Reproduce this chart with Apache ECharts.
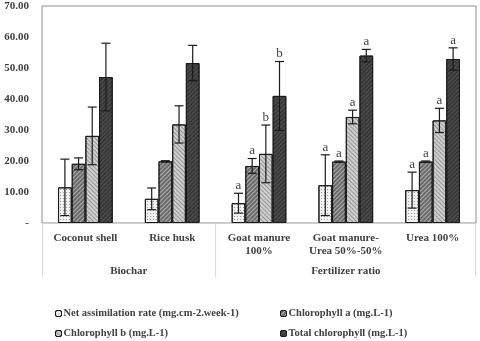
<!DOCTYPE html>
<html>
<head>
<meta charset="utf-8">
<script src="https://cdn.jsdelivr.net/npm/echarts@6/dist/echarts.min.js"></script>
<style>
  html, body { margin: 0; padding: 0; background: #fff; }
  #chart { width: 480px; height: 341px; }
</style>
</head>
<body>
<div id="chart"></div>
<script>
// categories of the x axis (two levels)
var categories = ['Coconut shell', 'Rice husk', 'Goat manure\n100%', 'Goat manure-\nUrea 50%-50%', 'Urea 100%'];
var groups = ['Biochar', 'Fertilizer ratio'];
var seriesNames = ['Net assimilation rate (mg.cm-2.week-1)', 'Chlorophyll a (mg.L-1)', 'Chlorophyll b (mg.L-1)', 'Total chlorophyll (mg.L-1)'];

// values
var netRate  = [11.5, 7.8, 6.4, 12.2, 10.6];
var chlA     = [19.1, 19.9, 18.4, 19.8, 19.8];
var chlB     = [28.1, 31.8, 22.3, 34.2, 33.1];
var totalChl = [47.1, 51.6, 41.0, 54.0, 52.9];

// error bars (+/-)
var netRateErr  = [9.1, 3.5, 3.2, 9.8, 5.8];
var chlAErr     = [1.9, 0.2, 2.4, 0.2, 0.2];
var chlBErr     = [9.3, 6.0, 9.3, 2.2, 3.9];
var totalChlErr = [10.9, 5.7, 11.1, 2.0, 3.6];

// significance letters
var netRateLetter  = ['', '', 'a', 'a', 'a'];
var chlALetter     = ['', '', 'a', 'a', 'a'];
var chlBLetter     = ['', '', 'b', 'a', 'a'];
var totalChlLetter = ['', '', 'b', 'a', 'a'];

var yTicks = [0, 10, 20, 30, 40, 50, 60, 70];

var font = '"Liberation Serif", "Times New Roman", serif';
var txtColor = '#404040';
var gapRatio = 0.37;

var values = [netRate, chlA, chlB, totalChl];
var errs = [netRateErr, chlAErr, chlBErr, totalChlErr];
var letters = [netRateLetter, chlALetter, chlBLetter, totalChlLetter];

// 数据拍平给 custom series 用
var errData = [];
var letterFlat = [];
values.forEach(function(arr, si) {
	arr.forEach(function(v, ci) {
		errData.push([ci, si, v, errs[si][ci]]);
		letterFlat.push(letters[si][ci]);
	});
});

var fills = ['#f2f2f2', '#6a6a6a', '#cfcfcf', '#383838'];
var decals = [
	{ symbol: 'rect', symbolSize: 1, color: 'rgba(0,0,0,0.35)', dashArrayX: [1, 2], dashArrayY: [1, 2], rotation: 0 },
	{ symbol: 'rect', symbolSize: 1, color: 'rgba(255,255,255,0.45)', dashArrayX: [1, 0], dashArrayY: [1, 2], rotation: -Math.PI / 4 },
	{ symbol: 'rect', symbolSize: 1, color: 'rgba(0,0,0,0.28)', dashArrayX: [1, 0], dashArrayY: [1, 2], rotation: Math.PI / 4 },
	{ symbol: 'rect', symbolSize: 1, color: 'rgba(255,255,255,0.12)', dashArrayX: [1, 0], dashArrayY: [1, 2], rotation: -Math.PI / 4 }
];

var barSeries = values.map(function(arr, i) {
	return {
		name: seriesNames[i],
		type: 'bar',
		data: arr,
		barGap: '0%',
		barCategoryGap: (gapRatio * 100) + '%',
		itemStyle: { color: fills[i], borderColor: '#1a1a1a', borderWidth: 1, decal: decals[i] },
		emphasis: { disabled: true }
	};
});

barSeries.push({
	type: 'custom',
	data: errData,
	z: 10,
	renderItem: function(params, api) {
		var ci = api.value(0), si = api.value(1), v = api.value(2), e = api.value(3);
		var band = api.size([1, 0])[0];
		var bw = band * (1 - gapRatio) / 4;
		var cx = api.coord([ci, 0])[0] + (si - 1.5) * bw;
		var yTop = api.coord([ci, v + e])[1];
		var yBot = api.coord([ci, v - e])[1];
		var hw = 4.5;
		var st = { stroke: '#1a1a1a', lineWidth: 1.2 };
		var children = [
			{ type: 'line', shape: { x1: cx, y1: yTop, x2: cx, y2: yBot }, style: st },
			{ type: 'line', shape: { x1: cx - hw, y1: yTop, x2: cx + hw, y2: yTop }, style: st },
			{ type: 'line', shape: { x1: cx - hw, y1: yBot, x2: cx + hw, y2: yBot }, style: st }
		];
		var lt = letterFlat[params.dataIndex];
		if (lt) {
			children.push({
				type: 'text',
				style: { text: lt, x: cx, y: yTop - 1, align: 'center', verticalAlign: 'bottom',
					font: '13px ' + font, fill: txtColor }
			});
		}
		return { type: 'group', children: children };
	}
});

var myChart = echarts.init(document.getElementById('chart'));

var legendText = { fontFamily: font, fontWeight: 'bold', fontSize: 10.5, color: txtColor, padding: [0, 0, 0, -3] };
// 图例位置：两列两行
var legendPos = [[50, 303], [275, 303], [50, 323], [275, 323]];
var legends = seriesNames.map(function(n, i) {
	return {
		data: [n], left: legendPos[i][0], top: legendPos[i][1], itemWidth: 6, itemHeight: 6,
		textStyle: legendText, itemStyle: { borderColor: '#1a1a1a', borderWidth: 1 }
	};
});

myChart.setOption({
	animation: false,
	aria: { enabled: true, decal: { show: true } },
	grid: { left: 42, right: 4, top: 6, bottom: 118, show: true, borderColor: '#8c8c8c', borderWidth: 1 },
	legend: legends,
	xAxis: {
		type: 'category',
		data: categories,
		axisLine: { lineStyle: { color: '#d0d0d0' } },
		axisTick: { show: false },
		axisLabel: { fontFamily: font, fontWeight: 'bold', fontSize: 11, color: txtColor, margin: 9, lineHeight: 13, interval: 0 }
	},
	yAxis: {
		type: 'value',
		min: yTicks[0],
		max: yTicks[yTicks.length - 1],
		interval: 10,
		splitLine: { show: false },
		axisLine: { show: false },
		axisTick: { show: false },
		axisLabel: {
			fontFamily: font, fontWeight: 'bold', fontSize: 11, color: txtColor, margin: 13,
			formatter: function(v) { return v === 0 ? '-' : v.toFixed(2); }
		}
	},
	series: barSeries
});

// 二级分类表格线和分组标题
(function() {
	var px = function(i) { return myChart.convertToPixel({ xAxisIndex: 0 }, i); };
	var y0 = myChart.convertToPixel({ yAxisIndex: 0 }, 0);
	var left = 42, right = 480 - 4;
	var mid = (px(1) + px(2)) / 2;
	var lineSt = { stroke: '#d9d9d9', lineWidth: 1 };
	var y1 = y0 + 54;
	var grpSt = { font: 'bold 11px ' + font, fill: txtColor, align: 'center', verticalAlign: 'middle' };
	myChart.setOption({
		graphic: [
			{ type: 'line', shape: { x1: left + 0.5, y1: y0, x2: left + 0.5, y2: y1 }, style: lineSt },
			{ type: 'line', shape: { x1: mid, y1: y0, x2: mid, y2: y1 }, style: lineSt },
			{ type: 'line', shape: { x1: right - 0.5, y1: y0, x2: right - 0.5, y2: y1 }, style: lineSt },
			{ type: 'text', x: (left + mid) / 2, y: y0 + 48, style: Object.assign({ text: groups[0] }, grpSt) },
			{ type: 'text', x: (mid + right) / 2, y: y0 + 48, style: Object.assign({ text: groups[1] }, grpSt) }
		]
	});
})();
</script>
</body>
</html>
